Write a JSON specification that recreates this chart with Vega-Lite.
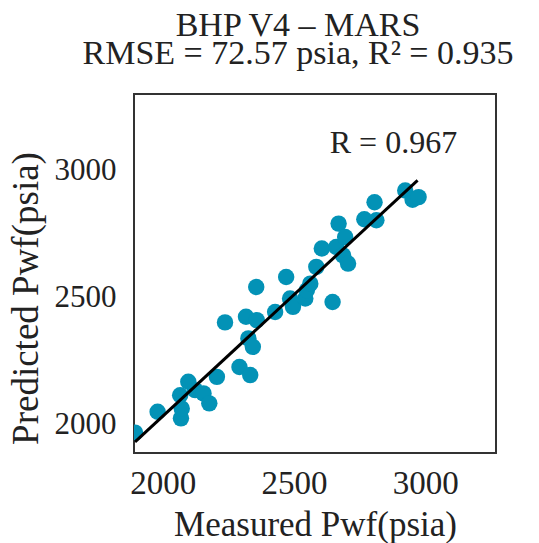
{
  "$schema": "https://vega.github.io/schema/vega-lite/v6.json",
  "width": 362,
  "height": 359,
  "autosize": {"type": "none"},
  "padding": {"left": 134, "top": 94, "right": 43, "bottom": 90},
  "background": "white",
  "config": {
    "font": "Liberation Serif",
    "view": {"stroke": "#333333", "strokeWidth": 2},
    "axis": {"grid": false, "ticks": false, "domain": false, "labelFont": "Liberation Serif", "titleFont": "Liberation Serif", "labelColor": "#222222", "titleColor": "#222222", "titleFontWeight": "normal", "labelFontSize": 33, "titleFontSize": 35, "format": "d"}
  },
  "title": {
    "text": ["BHP V4 – MARS", "RMSE = 72.57 psia, R² = 0.935"],
    "font": "Liberation Serif",
    "fontSize": 34,
    "fontWeight": "normal",
    "color": "#222222",
    "lineHeight": 28,
    "anchor": "middle",
    "dx": -17,
    "offset": 23
  },
  "datasets": {
    "points": [
      {"measured": 1894, "predicted": 1970},
      {"measured": 1980, "predicted": 2052},
      {"measured": 2069, "predicted": 2026},
      {"measured": 2072, "predicted": 2065},
      {"measured": 2066, "predicted": 2117},
      {"measured": 2097, "predicted": 2170},
      {"measured": 2123, "predicted": 2137},
      {"measured": 2155, "predicted": 2124},
      {"measured": 2177, "predicted": 2085},
      {"measured": 2206, "predicted": 2189},
      {"measured": 2237, "predicted": 2403},
      {"measured": 2292, "predicted": 2228},
      {"measured": 2333, "predicted": 2196},
      {"measured": 2326, "predicted": 2340},
      {"measured": 2343, "predicted": 2307},
      {"measured": 2317, "predicted": 2425},
      {"measured": 2358, "predicted": 2412},
      {"measured": 2356, "predicted": 2542},
      {"measured": 2428, "predicted": 2444},
      {"measured": 2470, "predicted": 2581},
      {"measured": 2485, "predicted": 2497},
      {"measured": 2496, "predicted": 2464},
      {"measured": 2543, "predicted": 2497},
      {"measured": 2549, "predicted": 2529},
      {"measured": 2562, "predicted": 2555},
      {"measured": 2585, "predicted": 2621},
      {"measured": 2606, "predicted": 2693},
      {"measured": 2647, "predicted": 2483},
      {"measured": 2661, "predicted": 2699},
      {"measured": 2670, "predicted": 2791},
      {"measured": 2695, "predicted": 2738},
      {"measured": 2687, "predicted": 2666},
      {"measured": 2706, "predicted": 2634},
      {"measured": 2768, "predicted": 2808},
      {"measured": 2807, "predicted": 2875},
      {"measured": 2814, "predicted": 2804},
      {"measured": 2924, "predicted": 2921},
      {"measured": 2952, "predicted": 2885},
      {"measured": 2975, "predicted": 2895}
    ],
    "fit": [
      {"measured": 1894, "predicted": 1934},
      {"measured": 2971, "predicted": 2961}
    ],
    "label": [
      {"measured": 2879, "predicted": 3106, "text": "R = 0.967"}
    ]
  },
  "layer": [
    {
      "data": {"name": "points"},
      "mark": {"type": "circle", "size": 270, "color": "#0392b6", "opacity": 1, "clip": true},
      "encoding": {
        "x": {"field": "measured", "type": "quantitative", "scale": {"domain": [1890, 3270], "nice": false, "zero": false},
              "axis": {"values": [2000, 2500, 3000], "title": "Measured Pwf(psia)", "labelPadding": 14, "titlePadding": 7, "labelFlush": false}},
        "y": {"field": "predicted", "type": "quantitative", "scale": {"domain": [1890, 3300], "nice": false, "zero": false},
              "axis": {"values": [2000, 2500, 3000], "title": "Predicted Pwf(psia)", "labelPadding": 18, "labelFontSize": 31, "titlePadding": 9, "titleFontSize": 37, "titleY": 204, "labelFlush": false}}
      }
    },
    {
      "data": {"name": "fit"},
      "mark": {"type": "line", "color": "#000000", "strokeWidth": 3, "clip": true},
      "encoding": {
        "x": {"field": "measured", "type": "quantitative"},
        "y": {"field": "predicted", "type": "quantitative"}
      }
    },
    {
      "data": {"name": "label"},
      "mark": {"type": "text", "fontSize": 32, "font": "Liberation Serif", "color": "#222222", "align": "center", "baseline": "middle"},
      "encoding": {
        "x": {"field": "measured", "type": "quantitative"},
        "y": {"field": "predicted", "type": "quantitative"},
        "text": {"field": "text"}
      }
    }
  ]
}
